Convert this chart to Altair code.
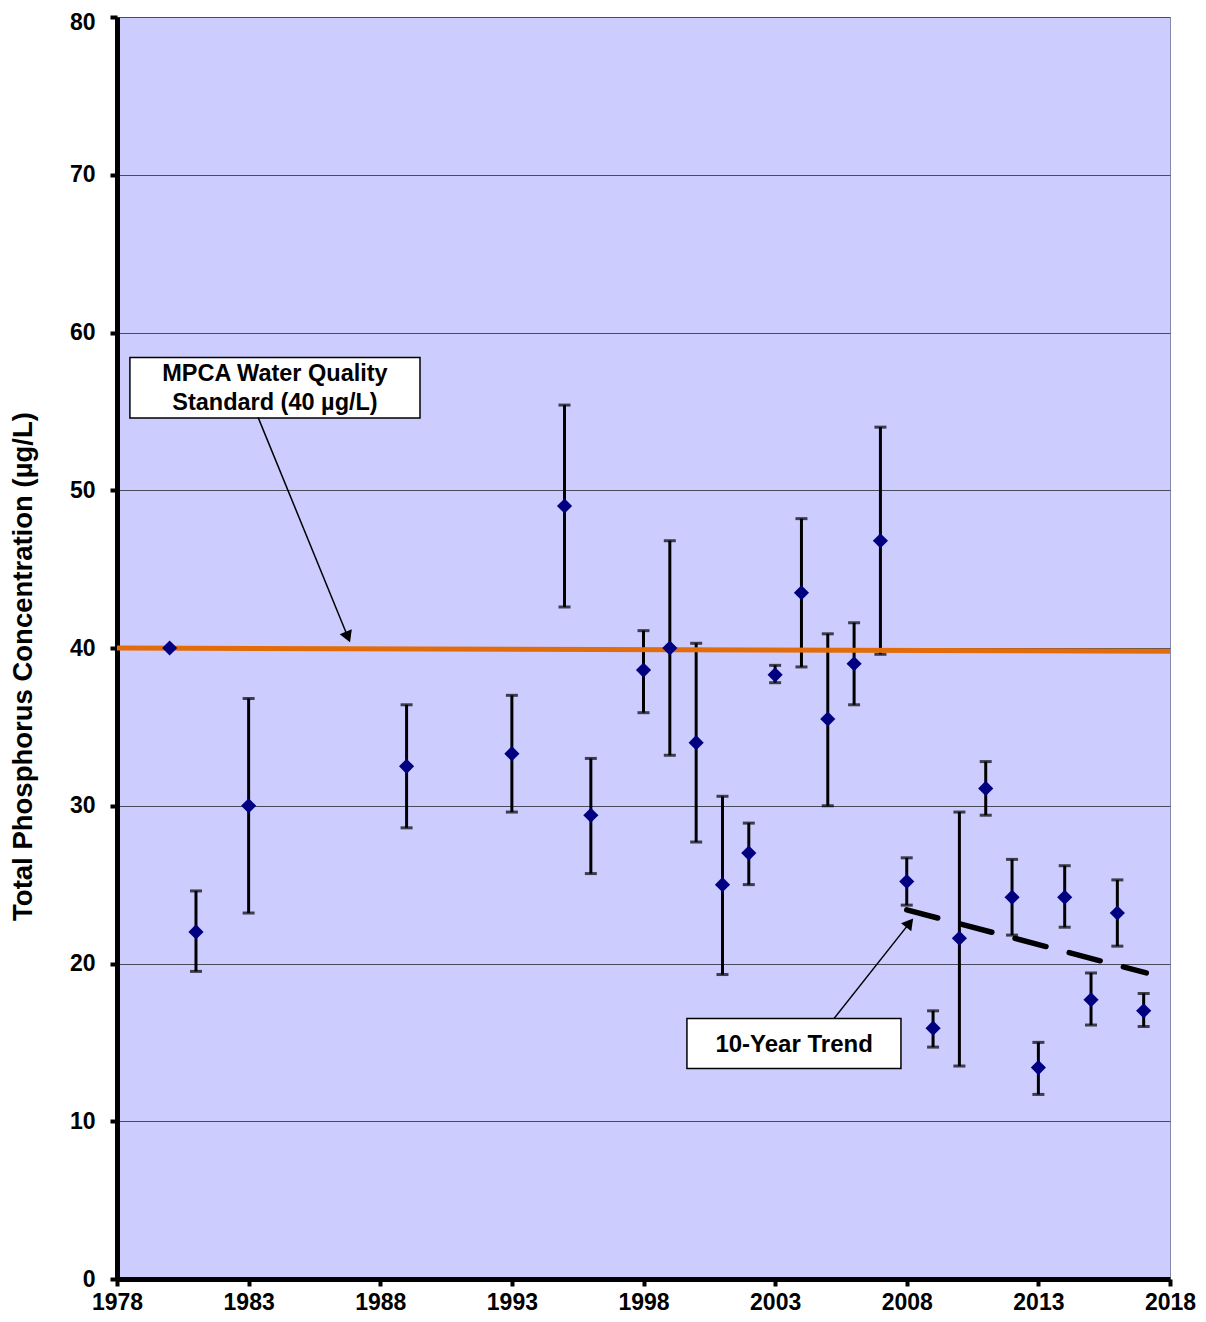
import math
import altair as alt
import pandas as pd

# ---- data ----
years = [1980, 1981, 1983, 1989, 1993, 1995, 1996, 1998, 1999, 2000, 2001, 2002, 2003, 2004,
         2005, 2006, 2007, 2008, 2009, 2010, 2011, 2012, 2013, 2014, 2015, 2016, 2017]
tp_mean = [40.0, 22.0, 30.0, 32.5, 33.3, 49.0, 29.4, 38.6, 40.0, 34.0, 25.0, 27.0, 38.3, 43.5,
           35.5, 39.0, 46.8, 25.2, 15.9, 21.6, 31.1, 24.2, 13.4, 24.2, 17.7, 23.2, 17.0]
tp_high = [None, 24.6, 36.8, 36.4, 37.0, 55.4, 33.0, 41.1, 46.8, 40.3, 30.6, 28.9, 38.9, 48.2,
           40.9, 41.6, 54.0, 26.7, 17.0, 29.6, 32.8, 26.6, 15.0, 26.2, 19.4, 25.3, 18.1]
tp_low = [None, 19.5, 23.2, 28.6, 29.6, 42.6, 25.7, 35.9, 33.2, 27.7, 19.3, 25.0, 37.8, 38.8,
          30.0, 36.4, 39.6, 23.7, 14.7, 13.5, 29.4, 21.8, 11.7, 22.3, 16.1, 21.1, 16.0]

standard_x = [1978, 2018]
standard_y = [40.0, 39.8]

trend_x = [2008.0, 2017.1]
trend_y = [23.4, 19.4]

x_ticks = [1978, 1983, 1988, 1993, 1998, 2003, 2008, 2013, 2018]
y_ticks = [0, 10, 20, 30, 40, 50, 60, 70, 80]

mpca_text = ["MPCA Water Quality", "Standard (40 µg/L)"]
trend_text = ["10-Year Trend"]

# ---- layout ----
W, H = 1053, 1262
XMIN, XMAX, YMIN, YMAX = 1978, 2018, 0, 80
PX_X = W / (XMAX - XMIN)
PX_Y = H / (YMAX - YMIN)

xs = alt.Scale(domain=[XMIN, XMAX], nice=False, zero=False)
ys = alt.Scale(domain=[YMIN, YMAX], nice=False)

pts = pd.DataFrame({"year": years, "tp": tp_mean})
err = pd.DataFrame({"year": years, "lo": tp_low, "hi": tp_high}).dropna()

X = lambda f: alt.X(f, type="quantitative", scale=xs,
                    axis=alt.Axis(values=x_ticks, format="d", title=None, grid=False,
                                  labelFlush=False))
Y = lambda f: alt.Y(f, type="quantitative", scale=ys,
                    axis=alt.Axis(values=y_ticks, title="Total Phosphorus Concentration (µg/L)",
                                  labelFlush=False, titleY=649,
                                  labelOffset={"condition": {"test": "datum.value == 80", "value": 5},
                                               "value": 0}))

bars = alt.Chart(err).mark_rule(color="black", strokeWidth=3).encode(
    x=X("year"), y=Y("lo"), y2="hi")
caps_hi = alt.Chart(err).mark_tick(orient="horizontal", color="black", size=12, thickness=3).encode(
    x=X("year"), y=Y("hi"))
caps_lo = alt.Chart(err).mark_tick(orient="horizontal", color="black", size=12, thickness=3).encode(
    x=X("year"), y=Y("lo"))

std_df = pd.DataFrame({"x": standard_x, "y": standard_y})
std = alt.Chart(std_df).mark_line(color="#E36C0A", strokeWidth=5).encode(x=X("x"), y=Y("y"))

trend_df = pd.DataFrame({"x": trend_x, "y": trend_y})
trend = alt.Chart(trend_df).mark_line(color="black", strokeWidth=5.5, strokeDash=[32, 24],
                                      strokeCap="round").encode(x=X("x"), y=Y("y"))

points = alt.Chart(pts).mark_point(shape="diamond", filled=True, color="#000080",
                                   size=230, opacity=1).encode(x=X("year"), y=Y("tp"))


def annotation(box, lines, text_x, text_ys, arrow_start, arrow_tip, font_size):
    bx = pd.DataFrame({"x": [box[0]], "x2": [box[1]], "y": [box[2]], "y2": [box[3]]})
    rect = alt.Chart(bx).mark_rect(fill="white", stroke="black", strokeWidth=1.5).encode(
        x=X("x"), x2="x2", y=Y("y"), y2="y2")
    tdf = pd.DataFrame({"x": [text_x] * len(lines), "y": text_ys, "t": lines})
    txt = alt.Chart(tdf).mark_text(font="Liberation Sans", fontWeight="bold",
                                   fontSize=font_size, align="center", baseline="middle",
                                   color="black").encode(
        x=X("x"), y=Y("y"), text="t:N")
    dx = (arrow_tip[0] - arrow_start[0]) * PX_X
    dy = -(arrow_tip[1] - arrow_start[1]) * PX_Y
    L = math.hypot(dx, dy)
    ang = math.degrees(math.atan2(dx, -dy)) % 360
    back = 5.5
    cx = arrow_tip[0] - dx / L * back / PX_X
    cy = arrow_tip[1] + dy / L * back / PX_Y
    ldf = pd.DataFrame({"x": [arrow_start[0]], "y": [arrow_start[1]],
                        "x2": [cx], "y2": [cy]})
    line = alt.Chart(ldf).mark_rule(color="black", strokeWidth=1.5).encode(
        x=X("x"), y=Y("y"), x2="x2", y2="y2")
    hdf = pd.DataFrame({"x": [cx], "y": [cy]})
    head = alt.Chart(hdf).mark_point(shape="triangle-up", filled=True, color="black",
                                     size=170, opacity=1, angle=ang).encode(x=X("x"), y=Y("y"))
    return [rect, txt, line, head]


ann1 = annotation((1978.49, 1989.51, 58.42, 54.58), mpca_text, 1984.0, [57.34, 55.51],
                  (1983.36, 54.62), (1986.85, 40.38), 23.5)
ann2 = annotation((1999.65, 2007.78, 16.52, 13.35), trend_text, 2003.72, [14.81],
                  (2005.24, 16.52), (2008.24, 22.85), 24)

chart = alt.layer(bars, caps_hi, caps_lo, std, trend, points, *ann1, *ann2).properties(
    width=W, height=H,
    autosize=alt.AutoSizeParams(type="none"),
    padding={"left": 109, "top": 9, "right": 28, "bottom": 34},
    background="white",
).configure_view(
    fill="#CCCCFF", stroke="#8888AA", strokeWidth=1
).configure_axis(
    labelFont="Liberation Sans", labelFontWeight="bold", labelFontSize=23, labelColor="black",
    titleFont="Liberation Sans", titleFontWeight="bold", titleFontSize=27.5, titleColor="black",
    domainColor="black", domainWidth=5, tickColor="black", tickWidth=4, tickSize=7,
    gridColor="#4A4A5A", gridWidth=1, gridOpacity=1,
).configure_axisY(
    labelPadding=15, titlePadding=32,
).configure_axisX(
    labelPadding=5,
)

chart.save("out.html", embed_options={"renderer": "svg", "actions": False})
